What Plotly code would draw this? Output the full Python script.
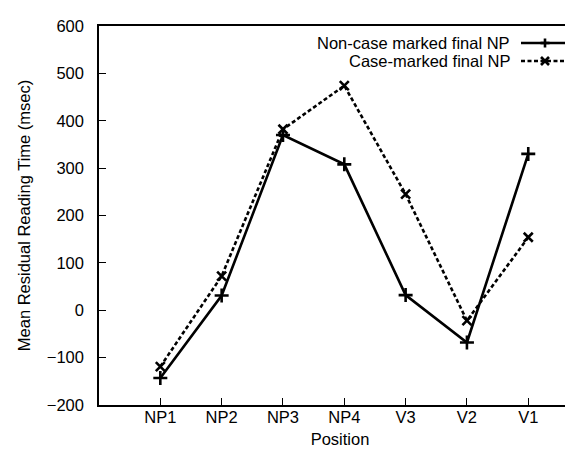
import plotly.graph_objects as go

categories = ["NP1", "NP2", "NP3", "NP4", "V3", "V2", "V1"]
non_case = [-143, 31, 370, 308, 32, -68, 330]
case_marked = [-119, 72, 382, 474, 245, -22, 154]
series_names = ["Non-case marked final NP", "Case-marked final NP"]
y_ticks = [-200, -100, 0, 100, 200, 300, 400, 500, 600]

W, H = 573, 452
L, T, B, R = 91, 18, 55, 0
pw, ph = W - L - R, H - T - B

def px(x):
    return (x - L) / pw

def py(y):
    return (H - B - y) / ph

FONT = "Liberation Sans, Arial, sans-serif"
FS = 16.5

fig = go.Figure()
fig.add_trace(go.Scatter(
    x=categories, y=non_case, mode="lines+markers", name=series_names[0],
    line=dict(color="black", width=2.6),
    marker=dict(symbol="cross-thin", size=10, line=dict(color="black", width=2.6)),
    showlegend=False,
))
fig.add_trace(go.Scatter(
    x=categories, y=case_marked, mode="lines+markers", name=series_names[1],
    line=dict(color="black", width=2.6, dash="4px,2.5px"),
    marker=dict(symbol="x-thin", size=9, line=dict(color="black", width=2.6)),
    showlegend=False,
))

# manual gnuplot-style key (text right aligned, sample to the right)
shapes = []
annotations = []
rows = [(35, "solid"), (53, "dash")]
for (yrow, style), name in zip(rows, series_names):
    annotations.append(dict(
        xref="paper", yref="paper", x=px(504), y=py(yrow), xanchor="right", yanchor="middle",
        text=name, showarrow=False, font=dict(family=FONT, size=FS, color="black"),
    ))
    shapes.append(dict(
        type="line", xref="paper", yref="paper", x0=px(513), x1=px(561), y0=py(yrow), y1=py(yrow),
        line=dict(color="black", width=2.6, dash="solid" if style == "solid" else "4px,2.5px"),
    ))
    cx = 537
    if style == "solid":
        shapes.append(dict(type="line", xref="paper", yref="paper", x0=px(cx - 4.5), x1=px(cx + 4.5),
                           y0=py(yrow), y1=py(yrow), line=dict(color="black", width=2.6)))
        shapes.append(dict(type="line", xref="paper", yref="paper", x0=px(cx), x1=px(cx),
                           y0=py(yrow - 4.5), y1=py(yrow + 4.5), line=dict(color="black", width=2.6)))
    else:
        shapes.append(dict(type="line", xref="paper", yref="paper", x0=px(cx - 4), x1=px(cx + 4),
                           y0=py(yrow - 4), y1=py(yrow + 4), line=dict(color="black", width=2.6)))
        shapes.append(dict(type="line", xref="paper", yref="paper", x0=px(cx - 4), x1=px(cx + 4),
                           y0=py(yrow + 4), y1=py(yrow - 4), line=dict(color="black", width=2.6)))

fig.update_layout(
    width=W, height=H,
    margin=dict(l=L, r=R, t=T, b=B, pad=0),
    paper_bgcolor="white", plot_bgcolor="white",
    font=dict(family=FONT, size=FS, color="black"),
    shapes=shapes, annotations=annotations,
    xaxis=dict(
        type="category", range=[-1, 6.86],
        showgrid=False, zeroline=False,
        showline=True, linecolor="black", linewidth=1.5, mirror=True,
        ticks="inside", ticklen=7, tickwidth=1, tickcolor="black",
        tickfont=dict(family=FONT, size=FS, color="black"),
        ticklabelstandoff=-4,
        title=dict(text="Position", font=dict(family=FONT, size=FS, color="black"), standoff=9),
    ),
    yaxis=dict(
        range=[-200, 600], tickvals=y_ticks,
        showgrid=False, zeroline=False,
        showline=True, linecolor="black", linewidth=1.5, mirror=False,
        ticks="inside", ticklen=7, tickwidth=1, tickcolor="black",
        tickfont=dict(family=FONT, size=FS, color="black"),
        ticklabelstandoff=10,
        title=dict(text="Mean Residual Reading Time (msec)", font=dict(family=FONT, size=FS, color="black"), standoff=12),
    ),
)

fig.write_html("out.html")
